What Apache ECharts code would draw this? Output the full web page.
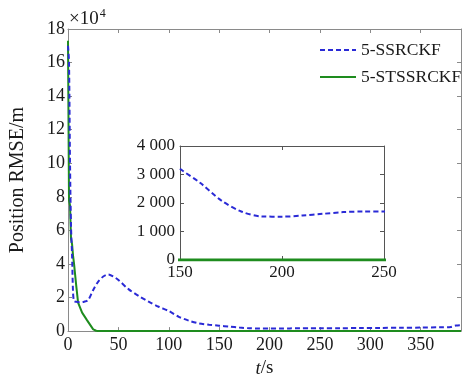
<!DOCTYPE html>
<html>
<head>
<meta charset="utf-8">
<script src="https://cdn.jsdelivr.net/npm/echarts@6/dist/echarts.min.js"></script>
<style>
  html, body { margin: 0; padding: 0; background: #fff; }
  #chart { width: 464px; height: 383px; }
</style>
</head>
<body>
<div id="chart"></div>
<script>
// values, RMSE in metres
const tSsr = [0, 1, 2, 3, 4, 5, 6, 8, 12, 16, 20, 25, 30, 35, 40, 45, 50, 60, 70, 80, 90, 100, 110, 120, 130, 140,
  150, 160, 170, 180, 190, 200, 210, 220, 230, 240, 250, 270, 290, 310, 330, 350, 370, 380, 385, 390];
const vSsr = [170000, 160000, 100000, 62000, 46000, 23000, 18000, 17500, 17200, 17500, 18500, 24500, 29500, 32500, 33800, 32500, 30500, 25000, 21000, 17500, 14500, 12000, 8500, 6200, 4600, 3800,
  3200, 2700, 2100, 1700, 1530, 1520, 1560, 1620, 1680, 1700, 1700, 1750, 1800, 1900, 2000, 2100, 2300, 2500, 3300, 3500];
const tSts = [0, 1, 2, 3, 4, 5, 6, 8, 10, 14, 19, 25, 28, 30, 100, 200, 300, 390];
const vSts = [173000, 78000, 75000, 55000, 52000, 45000, 40000, 28000, 17000, 11000, 6400, 1000, 200, 0, 0, 0, 0, 0];

const xTicksMain = [0, 50, 100, 150, 200, 250, 300, 350];
const yTicksMain = [0, 2, 4, 6, 8, 10, 12, 14, 16, 18]; // x 10^4
const xTicksInset = [150, 200, 250];
const yTicksInset = [0, 1000, 2000, 3000, 4000];

const BLUE = "#2a2ad6";
const GREEN = "#1e8c1e";
const FONT = "'Liberation Serif', 'Times New Roman', serif";

const pairs = (ts, vs, k) => ts.map((t, i) => [t, vs[i] / k]);
const spaced = (v) => String(v).replace(/\B(?=(\d{3})+(?!\d))/g, " ");
const onlyTicks = (list) => (v) => (list.includes(v) ? String(v) : "");

const chart = echarts.init(document.getElementById("chart"), null, { renderer: "canvas" });

// box style axes: ticks inside, mirrored on top/right
const boxAxis = (extra) => Object.assign({
  axisLine: { show: true, onZero: false, lineStyle: { color: "#8a8a8a", width: 1 } },
  axisTick: { show: true, inside: true, length: 4, lineStyle: { color: "#8a8a8a" } },
  splitLine: { show: false },
  axisLabel: { show: false },
}, extra);
const insetLine = { show: true, onZero: false, lineStyle: { color: "#555", width: 1 } };
const insetTick = { show: true, inside: true, length: 4, lineStyle: { color: "#555" } };

const labelStyle = { color: "#1a1a1a", fontFamily: FONT, fontSize: 18 };

chart.setOption({
  animation: false,
  backgroundColor: "#fff",
  grid: [
    { left: 68, top: 29, right: 2, bottom: 44 },
    { left: 180, top: 146, width: 204, height: 114, show: true, backgroundColor: "#fff", borderWidth: 0 },
  ],
  legend: {
    orient: "vertical",
    left: 314,
    top: 36,
    itemWidth: 36,
    itemHeight: 12,
    itemGap: 9,
    itemStyle: { opacity: 0 },
    textStyle: { color: "#1a1a1a", fontFamily: FONT, fontSize: 17.5 },
    data: ["5-SSRCKF", "5-STSSRCKF"],
  },
  xAxis: [
    boxAxis({
      type: "value", gridIndex: 0, position: "bottom", min: 0, max: 390, interval: 50,
      axisLabel: { show: true, margin: 5, ...labelStyle, formatter: onlyTicks(xTicksMain) },
      name: "{i|t}/s", nameLocation: "middle", nameGap: 26,
      nameTextStyle: {
        ...labelStyle, fontSize: 19,
        rich: { i: { fontStyle: "italic", fontFamily: FONT, fontSize: 19, color: "#1a1a1a" } },
      },
    }),
    boxAxis({ type: "value", gridIndex: 0, position: "top", min: 0, max: 390, interval: 50 }),
    boxAxis({
      type: "value", gridIndex: 1, position: "bottom", min: 150, max: 250, interval: 50,
      axisLine: insetLine, axisTick: insetTick,
      axisLabel: { show: true, margin: 4, ...labelStyle, fontSize: 17, formatter: onlyTicks(xTicksInset) },
    }),
    boxAxis({
      type: "value", gridIndex: 1, position: "top", min: 150, max: 250, interval: 50,
      axisLine: insetLine, axisTick: insetTick,
    }),
  ],
  yAxis: [
    boxAxis({
      type: "value", gridIndex: 0, position: "left", min: 0, max: 18, interval: 2,
      axisLabel: { show: true, margin: 3, ...labelStyle, formatter: onlyTicks(yTicksMain) },
      name: "Position RMSE/m", nameLocation: "middle", nameGap: 40, nameRotate: 90,
      nameTextStyle: { ...labelStyle, fontSize: 20 },
    }),
    boxAxis({ type: "value", gridIndex: 0, position: "right", min: 0, max: 18, interval: 2 }),
    boxAxis({
      type: "value", gridIndex: 1, position: "left", min: 0, max: 4000, interval: 1000,
      axisLine: insetLine, axisTick: insetTick,
      axisLabel: { show: true, margin: 5, ...labelStyle, fontSize: 17, formatter: (v) => (yTicksInset.includes(v) ? spaced(v) : "") },
    }),
    boxAxis({
      type: "value", gridIndex: 1, position: "right", min: 0, max: 4000, interval: 1000,
      axisLine: insetLine, axisTick: insetTick,
    }),
  ],
  graphic: [
    {
      type: "text", left: 69, top: 8,
      style: {
        text: "×10{s|4}", fill: "#1a1a1a", font: "19px " + FONT,
        rich: { s: { fontSize: 12, fontFamily: FONT, verticalAlign: "top", padding: [0, 0, 10, 1], fill: "#1a1a1a" } },
      },
    },
  ],
  series: [
    {
      name: "5-SSRCKF", type: "line", xAxisIndex: 0, yAxisIndex: 0, showSymbol: false, symbol: "none",
      smooth: 0.3, color: BLUE, lineStyle: { color: BLUE, width: 2, type: [5, 3] },
      data: pairs(tSsr, vSsr, 1e4), z: 3,
    },
    {
      name: "5-STSSRCKF", type: "line", xAxisIndex: 0, yAxisIndex: 0, showSymbol: false, symbol: "none",
      color: GREEN, lineStyle: { color: GREEN, width: 2 },
      data: pairs(tSts, vSts, 1e4), z: 2,
    },
    {
      name: "5-SSRCKF", type: "line", xAxisIndex: 2, yAxisIndex: 2, showSymbol: false, symbol: "none",
      smooth: 0.3, clip: true, color: BLUE, lineStyle: { color: BLUE, width: 2, type: [5, 3] },
      data: pairs(tSsr, vSsr, 1), z: 5,
    },
    {
      name: "5-STSSRCKF", type: "line", xAxisIndex: 2, yAxisIndex: 2, showSymbol: false, symbol: "none",
      clip: true, color: GREEN, lineStyle: { color: GREEN, width: 3 },
      data: pairs(tSts, vSts, 1), z: 5,
    },
  ],
});
</script>
</body>
</html>
